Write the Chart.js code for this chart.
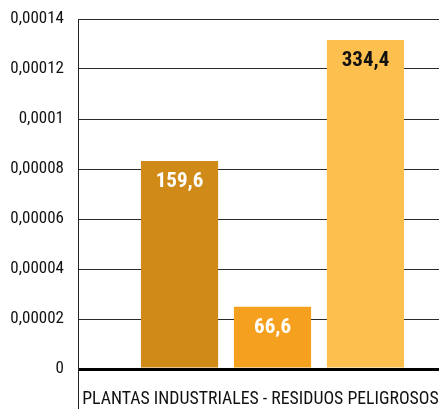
<!DOCTYPE html>
<html>
<head>
<meta charset="utf-8">
<script src="https://cdn.jsdelivr.net/npm/chart.js@4/dist/chart.umd.min.js"></script>
<style>
  html, body { margin: 0; padding: 0; background: #fff; overflow: hidden; }
  #wrap { width: 439px; height: 409px; overflow: hidden; }
</style>
</head>
<body>
<div id="wrap"><canvas id="chart" width="467" height="409"></canvas></div>
<script>
// datos del grafico
var categorias = ["PLANTAS INDUSTRIALES - RESIDUOS PELIGROSOS"];
var valores = [0.0000832, 0.0000249, 0.0001316];
var etiquetas = ["159,6", "66,6", "334,4"];
var colores = ["#d08a18", "#f6a020", "#fdc04f"];
var colorEtiqueta = ["#ffffff", "#ffffff", "#111111"];

var fuente = "'Roboto Condensed', 'DejaVu Sans Condensed', sans-serif";

// una serie por barra
var series = [];
for (var i = 0; i < valores.length; i++) {
  series.push({
    label: etiquetas[i],
    data: [valores[i]],
    backgroundColor: colores[i],
    borderWidth: 0,
    categoryPercentage: 0.717,
    barPercentage: 0.83,
  });
}

// texto dentro de la barra
var etiquetasBarra = {
  id: "etiquetasBarra",
  afterDatasetsDraw: function (chart) {
    var ctx = chart.ctx;
    ctx.save();
    ctx.font = "bold 21px " + fuente;
    ctx.textAlign = "center";
    ctx.textBaseline = "middle";
    chart.data.datasets.forEach(function (ds, i) {
      var bar = chart.getDatasetMeta(i).data[0];
      ctx.fillStyle = colorEtiqueta[i];
      ctx.fillText(etiquetas[i], bar.x, bar.y + 21);
    });
    ctx.restore();
  },
};

function coma(v) {
  if (v === 0) return "0";
  return String(+v.toFixed(6)).replace(".", ",");
}

var ctx = document.getElementById("chart").getContext("2d");
var grafico = new Chart(ctx, {
  type: "bar",
  data: { labels: categorias, datasets: series },
  options: {
    responsive: false,
    animation: false,
    layout: { padding: { top: 19, right: 0, left: 0, bottom: 0 } },
    plugins: { legend: { display: false }, tooltip: { enabled: false } },
    scales: {
      x: {
        offset: true,
        grid: {
          offset: true,
          drawOnChartArea: true,
          drawTicks: true,
          tickLength: 40,
          color: "#222",
          lineWidth: 1,
        },
        border: { display: false },
        ticks: {
          color: "#111",
          padding: -20,
          labelOffset: -12,
          maxRotation: 0,
          autoSkip: false,
          font: { family: fuente, size: 17.8 },
        },
        afterFit: function (scale) {
          scale.height = 40;
          scale.paddingLeft = 0;
          scale.paddingRight = 0;
        },
      },
      y: {
        min: 0,
        max: 0.00014,
        ticks: {
          stepSize: 0.00002,
          padding: 14,
          color: "#111",
          font: { family: fuente, size: 17 },
          callback: function (v) {
            return coma(v);
          },
        },
        grid: {
          drawTicks: false,
          color: function (c) {
            return c.tick && c.tick.value === 0 ? "#000" : "#2a2a2a";
          },
          lineWidth: function (c) {
            return c.tick && c.tick.value === 0 ? 3 : 1;
          },
        },
        border: { display: true, color: "#222", width: 1 },
        afterFit: function (scale) {
          scale.width = 78;
          scale.paddingTop = 0;
          scale.paddingBottom = 0;
        },
      },
    },
  },
  plugins: [etiquetasBarra],
});
</script>
</body>
</html>
